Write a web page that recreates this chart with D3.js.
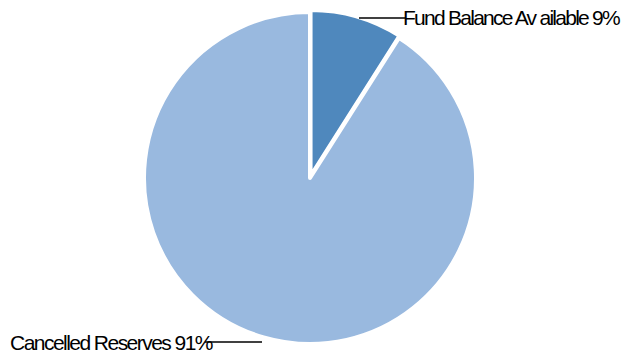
<!DOCTYPE html>
<html><head><meta charset="utf-8">
<script src="https://cdn.jsdelivr.net/npm/d3@7"></script>
<style>body{margin:0;background:#fff}</style>
</head><body>
<svg id="c" width="623" height="354"></svg>
<script>
const categories = ["Fund Balance Available", "Cancelled Reserves"];
const values = [9, 91];
const labels = ["Fund Balance Av ailable 9%", "Cancelled Reserves 91%"];
const colors = ["#4f88bd", "#99b9df"];

const svg = d3.select("#c");
const cx = 310, cy = 178, r = 166;
const pie = d3.pie().sort(null).value(d => d)(values);
const arc = d3.arc().innerRadius(0).outerRadius(r);
const g = svg.append("g").attr("transform", `translate(${cx},${cy})`);
g.selectAll("path").data(pie).join("path")
  .attr("d", arc)
  .attr("transform", (d, i) => {
    if (i !== 0) return null;
    const a = (d.startAngle + d.endAngle) / 2;
    return `translate(${2*Math.sin(a)},${-2*Math.cos(a)})`;
  })
  .attr("fill", (d, i) => colors[i])
  .attr("stroke", "#fff").attr("stroke-width", 4).attr("stroke-linejoin", "round");

// leader lines
svg.append("line").attr("x1", 359).attr("y1", 18).attr("x2", 406).attr("y2", 18).attr("stroke", "#000").attr("stroke-width", 1.3);
svg.append("line").attr("x1", 205).attr("y1", 342).attr("x2", 262).attr("y2", 342).attr("stroke", "#000").attr("stroke-width", 1.3);

function fitText(x, y, str, width) {
  const t = svg.append("text").attr("x", x).attr("y", y)
    .attr("font-family", "Liberation Sans, Arial, sans-serif").attr("font-size", 21)
    .attr("fill", "#000").text(str);
  const nat = t.node().getComputedTextLength();
  const ls = (width - nat) / str.length;
  t.attr("letter-spacing", ls);
  return t;
}
fitText(403, 25, labels[0], 216);
fitText(10, 350, labels[1], 202);
</script>
</body></html>
